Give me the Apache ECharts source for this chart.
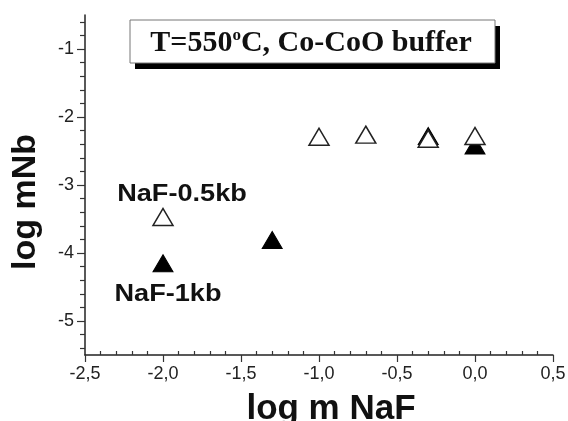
<!DOCTYPE html>
<html><head><meta charset="utf-8">
<script src="https://cdn.jsdelivr.net/npm/echarts@6/dist/echarts.min.js"></script>
<style>html,body{margin:0;padding:0;background:#fff}#c{width:568px;height:421px}</style>
</head><body><div id="c"></div>
<script>
var series05kb = [[-2.0, -3.47], [-1.0, -2.29], [-0.7, -2.26], [-0.3, -2.32], [0.0, -2.28]];
var series1kb = [[-2.0, -4.15], [-1.3, -3.81], [-0.3, -2.28], [0.0, -2.42]];
var yMajorTicks = [-5, -4, -3, -2, -1];
var yMinorTicks = [-5.4, -5.2, -4.8, -4.6, -4.4, -4.2, -3.8, -3.6, -3.4, -3.2, -2.8, -2.6, -2.4, -2.2, -1.8, -1.6, -1.4, -1.2, -0.8, -0.6];
var xMinorTicks = [-2.4,-2.3,-2.2,-2.1,-1.9,-1.8,-1.7,-1.6,-1.4,-1.3,-1.2,-1.1,-0.9,-0.8,-0.7,-0.6,-0.4,-0.3,-0.2,-0.1,0.1,0.2,0.3,0.4];
var titleParts = ['T=550', 'o', 'C, Co-CoO buffer'];
var labels = ['NaF-0.5kb', 'NaF-1kb'];
var axisNames = ['log m NaF', 'log mNb'];

var chart = echarts.init(document.getElementById('c'), null, {renderer: 'canvas'});
var tickColor = '#333';
var sans = '"Liberation Sans", Arial';
chart.setOption({
  animation: false,
  grid: {left: 85, right: 15, top: 15, bottom: 66, outerBoundsMode: 'none', containLabel: false},
  xAxis: [{
    type: 'value', min: -2.5, max: 0.5, interval: 0.5,
    axisLine: {onZero: false, lineStyle: {color: '#222', width: 1.5}},
    axisTick: {length: 7, lineStyle: {color: tickColor, width: 1.2}},
    splitLine: {show: false},
    axisLabel: {fontFamily: sans, fontSize: 18, color: '#222', margin: 10,
      formatter: function (v) { return v.toFixed(1).replace('.', ','); }}
  }, {
    type: 'value', min: -2.5, max: 0.5, position: 'bottom',
    axisLine: {show: false, onZero: false}, axisLabel: {show: false}, splitLine: {show: false},
    axisTick: {inside: true, length: 4, customValues: xMinorTicks, lineStyle: {color: tickColor, width: 1.2}}
  }],
  yAxis: [{
    type: 'value', min: -5.5, max: -0.5, position: 'left',
    axisLine: {show: true, onZero: false, lineStyle: {color: '#222', width: 1.5}},
    axisTick: {show: true, length: 8, customValues: yMajorTicks, lineStyle: {color: tickColor, width: 1.2}},
    splitLine: {show: false},
    axisLabel: {customValues: yMajorTicks, fontFamily: sans, fontSize: 18, color: '#222', margin: 11}
  }, {
    type: 'value', min: -5.5, max: -0.5, position: 'left',
    axisLine: {show: false, onZero: false}, axisLabel: {show: false}, splitLine: {show: false},
    axisTick: {show: true, length: 5, customValues: yMinorTicks, lineStyle: {color: tickColor, width: 1.2}}
  }],
  series: [{
    type: 'scatter', name: labels[1], data: series1kb,
    symbol: 'triangle', symbolSize: [20, 17],
    itemStyle: {color: '#000', borderColor: '#000', borderWidth: 1, opacity: 1}, z: 2
  }, {
    type: 'scatter', name: labels[0], data: series05kb,
    symbol: 'triangle', symbolSize: [20, 17],
    itemStyle: {color: '#fff', borderColor: '#222', borderWidth: 1.5, opacity: 1}, z: 3
  }],
  graphic: [
    {type: 'rect', shape: {x: 135, y: 26, width: 365, height: 43}, style: {fill: '#000'}, z: 10},
    {type: 'rect', shape: {x: 130, y: 20, width: 365, height: 43}, style: {fill: '#fff', stroke: '#777', lineWidth: 1}, z: 11},
    {type: 'text', x: 311, y: 43, z: 12, style: {
      text: '{a|' + titleParts[0] + '}{s|' + titleParts[1] + '}{a|' + titleParts[2] + '}',
      align: 'center', verticalAlign: 'middle',
      rich: {
        a: {fontFamily: '"Liberation Serif", "Times New Roman"', fontWeight: 'bold', fontSize: 30, fill: '#111'},
        s: {fontFamily: '"Liberation Serif", "Times New Roman"', fontWeight: 'bold', fontSize: 17, fill: '#111', verticalAlign: 'top', padding: [0, 0, 14, 0]}
      }}},
    {type: 'text', x: 182, y: 194, scaleX: 1.13, originX: 0, z: 12, style: {text: labels[0], align: 'center', verticalAlign: 'middle',
      font: 'bold 24px ' + sans, fill: '#111'}},
    {type: 'text', x: 168, y: 294, scaleX: 1.13, originX: 0, z: 12, style: {text: labels[1], align: 'center', verticalAlign: 'middle',
      font: 'bold 24px ' + sans, fill: '#111'}},
    {type: 'text', x: 331, y: 409, z: 12, style: {text: axisNames[0], align: 'center', verticalAlign: 'middle',
      font: 'bold 35px ' + sans, fill: '#111'}},
    {type: 'text', x: 26, y: 202, rotation: Math.PI / 2, z: 12, style: {text: axisNames[1], align: 'center', verticalAlign: 'middle',
      font: 'bold 34px ' + sans, fill: '#111'}}
  ]
});
</script></body></html>
